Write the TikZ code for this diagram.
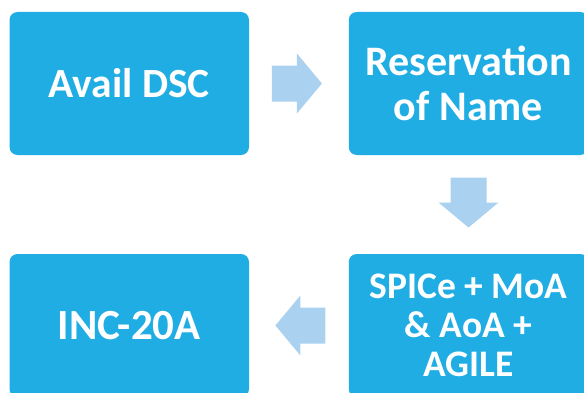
\documentclass[tikz,border=0pt]{standalone}
\usepackage{fontspec}
\setmainfont{Carlito}
\usetikzlibrary{calc}
\definecolor{boxblue}{HTML}{1FADE4}
\definecolor{arrblue}{HTML}{AAD1EF}
\begin{document}
\begin{tikzpicture}[x=1pt,y=1pt,
  box/.style={rectangle,rounded corners=8pt,fill=boxblue,minimum width=239.5pt,minimum height=143pt,text=white,align=center,inner sep=0pt},
  barrow/.pic={\fill[arrblue] (-25,-18) -- (-25,18) -- (0,18) -- (0,30) -- (25,0) -- (0,-30) -- (0,-18) -- cycle;}]
\useasboundingbox (0,0) rectangle (584,392);
\node[box,font=\bfseries\fontsize{41.5}{49}\selectfont] (a) at (129.25,308.5) {Avail DSC};
\node[box,font=\bfseries\fontsize{42}{45}\selectfont] (b) at (468.5,308.5) {Reservation\\of Name};
\node[box,font=\bfseries\fontsize{37.5}{39}\selectfont] (c) at (468.5,66.5) {SPICe + MoA\\\& AoA +\\AGILE};
\node[box,font=\bfseries\fontsize{43}{52}\selectfont] (d) at (129.25,66.5) {INC-20A};
\pic at ($(a.east)!0.5!(b.west)+(-2,0)$) {barrow};
\pic[rotate=-90] at ($(b.south)!0.5!(c.north)+(0,2)$) {barrow};
\pic[rotate=180] at ($(c.west)!0.5!(d.east)+(1.5,0)$) {barrow};
\end{tikzpicture}
\end{document}
